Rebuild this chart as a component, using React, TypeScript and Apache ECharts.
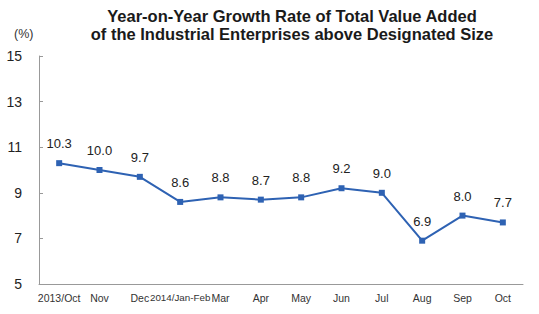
import React, { useEffect, useRef } from "react";
import * as echarts from "echarts";

const categories = ["2013/Oct", "Nov", "Dec", "2014/Jan-Feb", "Mar", "Apr", "May", "Jun", "Jul", "Aug", "Sep", "Oct"];
const growthValues = [10.3, 10.0, 9.7, 8.6, 8.8, 8.7, 8.8, 9.2, 9.0, 6.9, 8.0, 7.7];
const titleLines = ["Year-on-Year Growth Rate of Total Value Added", "of the Industrial Enterprises above Designated Size"];
const unitLabel = "(%)";

export default function App() {
  const ref = useRef<HTMLDivElement>(null);
  useEffect(() => {
    if (!ref.current) return;
    const chart = echarts.init(ref.current, null, { renderer: "svg" });
    chart.setOption({
      animation: false,
      backgroundColor: "#ffffff",
      title: {
        text: titleLines.join("\n"),
        left: 287,
        textAlign: "center",
        top: 2,
        textStyle: {
          fontFamily: "Liberation Sans, Arial, sans-serif",
          fontWeight: "bold",
          fontSize: 16.5,
          lineHeight: 18,
          color: "#1a1a1a",
        },
      },
      graphic: [
        {
          type: "text",
          left: 14,
          top: 27,
          style: { text: unitLabel, fontFamily: "Liberation Sans, Arial, sans-serif", fontSize: 12.5, fill: "#333" },
        },
      ],
      grid: { left: 39, right: 16, top: 56, bottom: 30 },
      xAxis: {
        type: "category",
        data: categories,
        boundaryGap: true,
        axisLine: { lineStyle: { color: "#999", width: 1 } },
        axisTick: { inside: true, length: 4, alignWithLabel: false, lineStyle: { color: "#999" } },
        axisLabel: {
          interval: 0,
          hideOverlap: false,
          color: "#333",
          fontFamily: "Liberation Sans, Arial, sans-serif",
          fontSize: 10.5,
          margin: 8,
          formatter: (v: string) => (v.length > 9 ? "{s|" + v + "}" : v),
          rich: {
            s: { fontSize: 9.8, color: "#333", fontFamily: "Liberation Sans, Arial, sans-serif" },
          },
        },
      },
      yAxis: {
        type: "value",
        min: 5,
        max: 15,
        interval: 2,
        splitLine: { show: false },
        axisLine: { show: true, lineStyle: { color: "#999", width: 1 } },
        axisTick: { show: true, inside: true, length: 4, lineStyle: { color: "#999" } },
        axisLabel: {
          color: "#222",
          fontFamily: "Liberation Sans, Arial, sans-serif",
          fontSize: 14,
          margin: 17,
        },
      },
      series: [
        {
          type: "line",
          data: growthValues,
          symbol: "rect",
          symbolSize: 6,
          lineStyle: { color: "#2e62b3", width: 2 },
          itemStyle: { color: "#2e62b3" },
          label: {
            show: true,
            position: "top",
            distance: 10,
            formatter: (p: any) => p.value.toFixed(1),
            color: "#222",
            fontFamily: "Liberation Sans, Arial, sans-serif",
            fontSize: 13,
          },
        },
      ],
    });
    return () => chart.dispose();
  }, []);
  return <div ref={ref} style={{ width: 539, height: 314, position: "absolute", left: 0, top: 0 }} />;
}
